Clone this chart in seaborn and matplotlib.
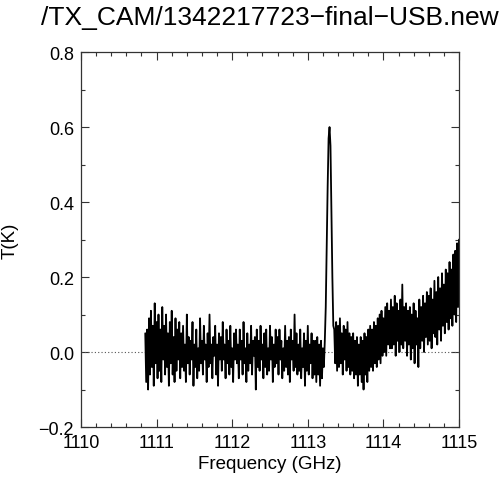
import numpy as np
import pandas as pd
import matplotlib
matplotlib.use("Agg")
import matplotlib.pyplot as plt
from matplotlib.ticker import MultipleLocator
import seaborn as sns

# spectrum, 0.0125 GHz channels from 1110.85 to 1115.0 GHz
f_start = 1110.85
f_end = 1115.0
t_k = [
    0.05, -0.08, 0.06, -0.10, 0.09, -0.06, 0.11, -0.04, 0.07, -0.09, 0.13, -0.03, 0.08, -0.07, 0.10, -0.05, 0.06, -0.08, 0.12, -0.02,
    0.07, -0.06, 0.10, -0.04, 0.05, -0.09, 0.08, -0.03, 0.11, -0.06, 0.04, -0.08, 0.09, -0.05, 0.06, -0.02, 0.08, -0.07, 0.05, -0.04,
    0.07, -0.05, 0.02, -0.08, 0.10, -0.03, 0.04, -0.06, 0.03, -0.02, 0.08, -0.09, 0.02, -0.04, 0.06, -0.07, 0.01, -0.05, 0.09, -0.03,
    0.03, -0.06, 0.07, -0.02, 0.02, -0.08, 0.05, -0.04, 0.10, -0.03, 0.02, -0.07, 0.04, -0.01, 0.07, -0.06, 0.02, -0.09, 0.05, -0.02,
    0.04, -0.05, 0.08, -0.02, 0.02, -0.07, 0.06, -0.03, 0.03, -0.06, 0.07, -0.04, 0.01, -0.08, 0.05, -0.02, 0.06, -0.03, 0.02, -0.07,
    0.06, -0.02, 0.03, -0.06, 0.08, -0.03, 0.01, -0.08, 0.05, -0.05, 0.02, -0.03, 0.07, -0.06, 0.03, -0.01, 0.04, -0.10, 0.06, -0.04,
    0.03, -0.05, 0.07, -0.02, 0.02, -0.07, 0.05, -0.04, 0.06, -0.06, 0.01, -0.05, 0.07, -0.02, 0.04, -0.08, 0.02, -0.04, 0.06, -0.03,
    0.04, -0.06, 0.06, -0.02, 0.03, -0.07, 0.01, -0.05, 0.07, -0.04, 0.03, -0.06, 0.04, -0.08, 0.06, -0.02, 0.03, -0.05, 0.10, -0.04,
    0.05, -0.06, 0.02, -0.05, 0.06, -0.07, 0.01, -0.04, 0.05, -0.09, 0.03, -0.05, 0.07, -0.06, 0.02, -0.03, 0.05, -0.07, 0.03, -0.06,
    0.03, -0.08, 0.04, -0.06, 0.02, -0.09, 0.03, -0.07, 0.01, -0.04, 0.03, 0.12, 0.28, 0.44, 0.57, 0.60, 0.55, 0.38, 0.20, 0.07,
    0.06, -0.03, 0.08, -0.05, 0.07, -0.04, 0.09, -0.03, 0.05, -0.06, 0.07, -0.02, 0.06, -0.05, 0.08, -0.04, 0.05, -0.06, 0.04, -0.05,
    0.05, -0.07, 0.03, -0.06, 0.04, -0.09, 0.02, -0.06, 0.04, -0.08, 0.03, -0.10, 0.05, -0.06, 0.04, -0.08, 0.06, -0.05, 0.07, -0.04,
    0.06, -0.05, 0.08, -0.03, 0.07, -0.04, 0.09, -0.02, 0.10, -0.03, 0.11, -0.01, 0.09, 0.00, 0.12, -0.01, 0.13, 0.02, 0.11, 0.01,
    0.14, 0.01, 0.12, 0.02, 0.15, -0.01, 0.13, 0.03, 0.11, 0.00, 0.14, 0.02, 0.18, 0.01, 0.12, 0.03, 0.13, -0.01, 0.11, 0.02,
    0.12, -0.02, 0.10, 0.01, 0.13, -0.03, 0.11, 0.02, 0.09, -0.04, 0.14, 0.01, 0.12, 0.03, 0.15, 0.00, 0.13, 0.04, 0.16, 0.02,
    0.15, 0.03, 0.17, 0.01, 0.14, 0.05, 0.19, 0.04, 0.16, 0.02, 0.20, 0.06, 0.17, 0.03, 0.21, 0.07, 0.18, 0.05, 0.22, 0.08,
    0.21, 0.06, 0.24, 0.09, 0.22, 0.07, 0.26, 0.10, 0.27, 0.08, 0.29, 0.12, 0.30,
]
freq = np.linspace(f_start, f_end, len(t_k))
df = pd.DataFrame({"freq": freq, "T": t_k})

sns.set_theme(style="ticks")
plt.rcParams["font.family"] = ["Liberation Sans", "DejaVu Sans"]
plt.rcParams["text.color"] = "black"
plt.rcParams["axes.labelcolor"] = "black"

fig = plt.figure(figsize=(5.0, 4.85), dpi=100)
ax = fig.add_axes([0.162, 0.1175, 0.756, 0.773])

ax.axhline(0.0, color="#555555", lw=0.8, ls=(0, (1, 2)))
sns.lineplot(data=df, x="freq", y="T", ax=ax, color="black", lw=1.3,
             estimator=None, sort=False)

ax.set_xlim(1110, 1115)
ax.set_ylim(-0.2, 0.8)
ax.xaxis.set_major_locator(MultipleLocator(1))
ax.xaxis.set_minor_locator(MultipleLocator(0.2))
ax.yaxis.set_major_locator(MultipleLocator(0.2))
ax.yaxis.set_minor_locator(MultipleLocator(0.1))
ax.set_yticklabels([f"{v:.1f}".replace("-", "\u2212") for v in ax.get_yticks()])

ax.tick_params(which="both", direction="in", top=True, right=True,
               color="#333333", width=0.8, labelsize=13, labelcolor="black")
ax.tick_params(which="major", length=6, pad=5)
ax.tick_params(which="minor", length=3)
for s in ax.spines.values():
    s.set_color("#333333")
    s.set_linewidth(0.9)

ax.set_xlabel("Frequency (GHz)", fontsize=13.5, labelpad=3)
ax.set_ylabel("T(K)", fontsize=13.5, labelpad=14)
ax.set_title("/TX_CAM/1342217723\u2212final\u2212USB.new", fontsize=19, pad=20)

fig.savefig("out.png", dpi=100)
